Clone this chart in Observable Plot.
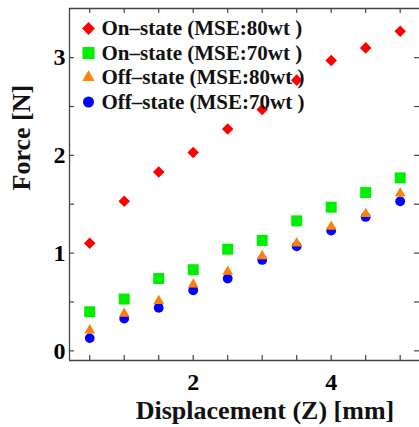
<!DOCTYPE html>
<html><head><meta charset="utf-8">
<script src="https://cdn.jsdelivr.net/npm/d3@7"></script>
<script src="https://cdn.jsdelivr.net/npm/@observablehq/plot@0.6"></script>
<style>body{margin:0;background:#fff} svg text{font-family:"Liberation Serif","Times New Roman",serif !important;}</style>
</head><body><div id="chart"></div>
<script>
const displacement = [0.5, 1, 1.5, 2, 2.5, 3, 3.5, 4, 4.5, 5];
const onMSE80 = [1.10, 1.53, 1.83, 2.03, 2.27, 2.47, 2.77, 2.97, 3.10, 3.27];
const onMSE70 = [0.40, 0.53, 0.74, 0.83, 1.04, 1.13, 1.33, 1.47, 1.62, 1.77];
const offMSE80 = [0.21, 0.38, 0.51, 0.68, 0.81, 0.97, 1.10, 1.27, 1.40, 1.61];
const offMSE70 = [0.13, 0.33, 0.44, 0.62, 0.74, 0.93, 1.07, 1.23, 1.37, 1.53];
const seriesNames = ["On\u2013state (MSE:80wt )", "On\u2013state (MSE:70wt )", "Off\u2013state (MSE:80wt )", "Off\u2013state (MSE:70wt )"];
const seriesColors = ["#ff0000", "#00ee00", "#ff7f0a", "#0000ff"];
const seriesSymbols = ["diamond2", "square", "triangle", "circle"];
const xTickLabels = [2, 4];
const yTickLabels = [0, 1, 2, 3];
const xTickMarks = [0.5, 1, 1.5, 2, 2.5, 3, 3.5, 4, 4.5, 5];
const yTickMarks = [0, 0.5, 1, 1.5, 2, 2.5, 3];
const xTitle = "Displacement (Z) [mm]";
const yTitle = "Force [N]";

const W = 419, H = 427, mL = 69, mR = 0, mT = 8, mB = 67;
const innerW = W - mL - mR, innerH = H - mT - mB;
const font = "Liberation Serif";
const axisColor = "#444";

const series = [onMSE80, onMSE70, offMSE80, offMSE70];
const rows = [];
series.forEach((vals, s) => vals.forEach((v, i) => rows.push({x: displacement[i], y: v, s})));
const sizes = [5.2, 6.2, 4.0, 4.9];
const drawOrder = [3, 2, 1, 0];

const marks = [];
marks.push(Plot.ruleX([0.207], {stroke: axisColor, strokeWidth: 1.3}));
marks.push(Plot.ruleY([-0.099, 3.503], {stroke: axisColor, strokeWidth: 1.3}));
marks.push(Plot.tickX(xTickMarks, {x: d => d, insetTop: innerH - 5, stroke: axisColor, strokeWidth: 1.2}));
marks.push(Plot.tickX(xTickMarks, {x: d => d, insetBottom: innerH - 5, stroke: axisColor, strokeWidth: 1.2}));
marks.push(Plot.tickY(yTickMarks, {y: d => d, insetRight: innerW - 5, stroke: axisColor, strokeWidth: 1.2}));
marks.push(Plot.tickY(yTickMarks, {y: d => d, insetLeft: innerW - 5, stroke: axisColor, strokeWidth: 1.2}));
marks.push(Plot.axisX({ticks: xTickLabels, tickFormat: d3.format("d"), tickSize: 0, tickPadding: 12, fontSize: 24, fontWeight: "bold", fontFamily: font, fill: "#000", label: null}));
marks.push(Plot.axisY({ticks: yTickLabels, tickFormat: d3.format("d"), tickSize: 0, tickPadding: 4, fontSize: 24, fontWeight: "bold", fontFamily: font, fill: "#000", label: null}));
drawOrder.forEach(s => {
  marks.push(Plot.dot(rows.filter(d => d.s === s), {x: "x", y: "y", symbol: () => seriesSymbols[s], fill: seriesColors[s], r: sizes[s], stroke: "none"}));
});
seriesNames.forEach((name, i) => {
  marks.push(Plot.dot([name], {frameAnchor: "top-left", dx: 19, dy: 20 + i * 24.5, symbol: seriesSymbols[i], fill: seriesColors[i], r: sizes[i] + 0.6, stroke: "none"}));
  marks.push(Plot.text([name], {frameAnchor: "top-left", dx: 32, dy: 20 + i * 24.5, text: d => d, textAnchor: "start", lineAnchor: "middle", fontSize: 21, fontWeight: "bold", fontFamily: font, fill: "#111"}));
});
marks.push(Plot.text([xTitle], {frameAnchor: "bottom", dx: 20.5, dy: 50, text: d => d, lineAnchor: "middle", fontSize: 26, fontWeight: "bold", fontFamily: font, fill: "#111"}));
marks.push(Plot.text([yTitle], {frameAnchor: "left", dx: -47.5, dy: 6, rotate: -90, text: d => d, lineAnchor: "middle", fontSize: 26, fontWeight: "bold", fontFamily: font, fill: "#111"}));

const chart = Plot.plot({
  width: W, height: H,
  marginLeft: mL, marginRight: mR, marginTop: mT, marginBottom: mB,
  x: {domain: [0.207, 5.28], axis: null},
  y: {domain: [-0.099, 3.503], axis: null},
  symbol: {type: "identity"},
  style: {background: "#fff", fontFamily: font, overflow: "visible"},
  marks
});
document.getElementById("chart").appendChild(chart);
</script>
</body></html>
